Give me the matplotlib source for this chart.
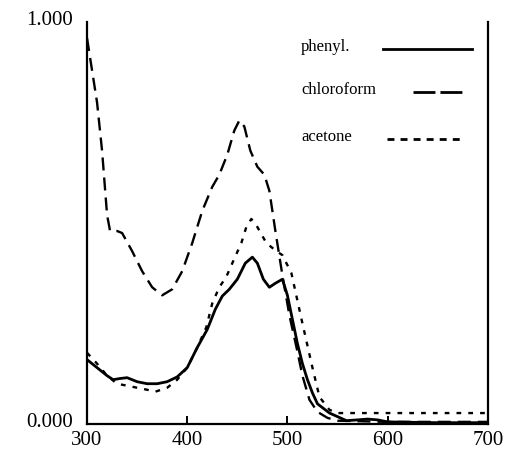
import matplotlib
matplotlib.use("Agg")
import matplotlib.pyplot as plt
from matplotlib.lines import Line2D
from matplotlib.transforms import ScaledTranslation

# Wavelength (nm) and absorbance values
phenyl_x = [300, 310, 320, 326, 333, 340, 350, 360, 370, 380, 390, 400, 410, 420,
            428, 435, 442, 450, 458, 465, 470, 476, 482, 488, 495, 500, 505, 510,
            515, 520, 525, 530, 542, 559, 570, 580, 590, 600, 650, 700]
phenyl_y = [0.16, 0.14, 0.12, 0.11, 0.113, 0.115, 0.105, 0.10, 0.10, 0.105, 0.117, 0.14,
            0.19, 0.235, 0.285, 0.318, 0.335, 0.36, 0.40, 0.415, 0.40, 0.36, 0.34, 0.35,
            0.36, 0.32, 0.26, 0.20, 0.15, 0.11, 0.077, 0.05, 0.027, 0.008, 0.01, 0.012,
            0.01, 0.005, 0.003, 0.003]

chloro_x = [300, 305, 310, 315, 320, 323, 330, 335, 345, 355, 365, 375, 385, 395, 405,
            415, 425, 432, 440, 447, 452, 457, 463, 470, 477, 482, 488, 495, 502, 510,
            515, 522, 530, 540, 550, 600, 650, 700]
chloro_y = [0.96, 0.88, 0.80, 0.68, 0.52, 0.48, 0.48, 0.475, 0.43, 0.38, 0.34, 0.32,
            0.335, 0.38, 0.45, 0.53, 0.59, 0.62, 0.67, 0.73, 0.755, 0.74, 0.68, 0.64,
            0.62, 0.58, 0.48, 0.37, 0.27, 0.18, 0.12, 0.06, 0.03, 0.015, 0.008, 0.005,
            0.005, 0.005]

acetone_x = [300, 310, 320, 330, 340, 350, 360, 368, 380, 390, 400, 410, 419, 425,
             432, 439, 445, 454, 459, 464, 470, 479, 489, 495, 504, 515, 525, 532,
             542, 550, 600, 650, 700]
acetone_y = [0.177, 0.15, 0.12, 0.10, 0.095, 0.09, 0.085, 0.08, 0.09, 0.11, 0.14, 0.19,
             0.24, 0.30, 0.34, 0.366, 0.40, 0.45, 0.49, 0.51, 0.49, 0.45, 0.43, 0.42,
             0.375, 0.25, 0.14, 0.067, 0.035, 0.027, 0.027, 0.027, 0.027]

series_labels = ["phenyl.", "chloroform", "acetone"]
x_ticks = [300, 400, 500, 600, 700]
y_ticks = [0.0, 1.0]
y_ticklabels = ["0.000", "1.000"]

serif = ["Liberation Serif", "DejaVu Serif"]

fig = plt.figure(figsize=(5.06, 4.5), dpi=100)
ax = fig.add_axes([0.172, 0.058, 0.792, 0.893])

styles = [dict(lw=2.0, ls="-"),
          dict(lw=1.7, ls=(0, (5.5, 3))),
          dict(lw=1.7, ls=(0, (2, 3)))]
for xs, ys, st, lab in zip([phenyl_x, chloro_x, acetone_x],
                           [phenyl_y, chloro_y, acetone_y], styles, series_labels):
    ax.plot(xs, ys, color="black", label=lab, **st)

ax.set_xlim(300, 700)
ax.set_ylim(0, 1)
ax.set_xticks(x_ticks)
ax.set_yticks(y_ticks)
ax.set_yticklabels(y_ticklabels)
ax.spines["top"].set_visible(False)
for s in ["left", "right", "bottom"]:
    ax.spines[s].set_linewidth(1.6)
ax.tick_params(axis="x", direction="in", length=6, width=1.4, pad=5)
ax.tick_params(axis="y", length=0, pad=10)
for lbl in ax.get_xticklabels() + ax.get_yticklabels():
    lbl.set_fontfamily(serif)
    lbl.set_fontsize(15)
shift_up = ScaledTranslation(0, 3 / 72, fig.dpi_scale_trans)
for lbl in ax.get_yticklabels():
    lbl.set_transform(lbl.get_transform() + shift_up)

# hand-built legend: left-aligned labels with line samples to the right
leg_text_x = 0.534
leg_rows_y = [0.932, 0.826, 0.709]
leg_line_x = [(0.738, 0.960), (0.813, 0.935), (0.748, 0.930)]
leg_styles = [dict(lw=2.0, ls="-"),
              dict(lw=2.0, ls=(0, (7.9, 1.8))),
              dict(lw=2.0, ls=(0, (2.5, 2.2)))]
for lab, yy, (x0, x1), st in zip(series_labels, leg_rows_y, leg_line_x, leg_styles):
    ax.text(leg_text_x, yy + 0.005, lab, transform=ax.transAxes, ha="left", va="center",
            fontfamily=serif, fontsize=12)
    ax.add_line(Line2D([x0, x1], [yy, yy], transform=ax.transAxes, color="black", **st))

fig.savefig("out.png", dpi=100)
